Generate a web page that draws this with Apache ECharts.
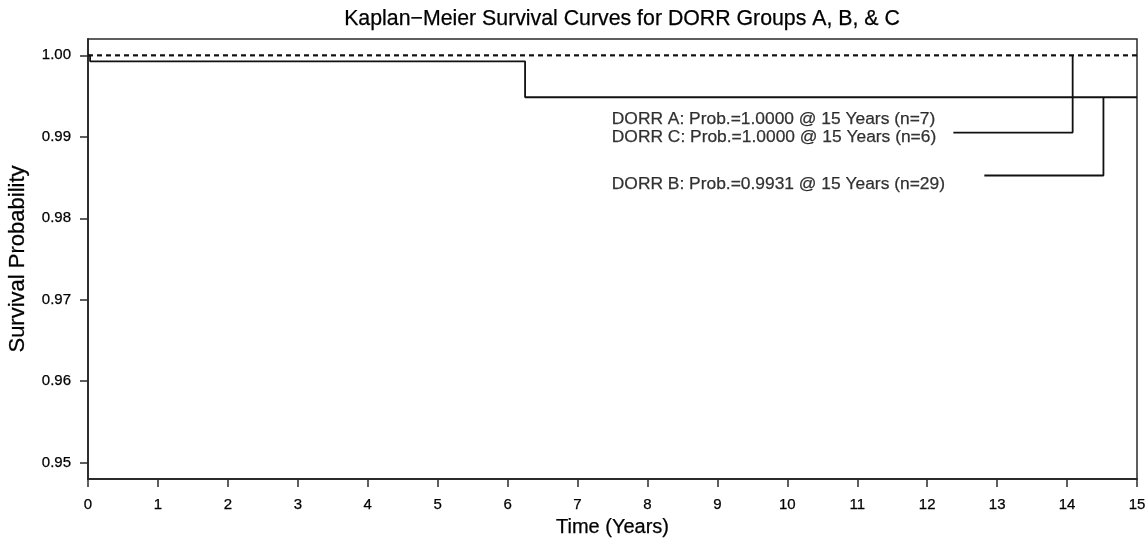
<!DOCTYPE html>
<html>
<head>
<meta charset="utf-8">
<script src="https://cdn.jsdelivr.net/npm/echarts@6/dist/echarts.min.js"></script>
<style>
  html, body { margin: 0; padding: 0; background: #fff; }
  #chart { width: 1148px; height: 546px; }
</style>
</head>
<body>
<div id="chart"></div>
<script>
// ---- data ----
const titleText = 'Kaplan\u2212Meier Survival Curves for DORR Groups A, B, & C';
const xTicks = [0, 1, 2, 3, 4, 5, 6, 7, 8, 9, 10, 11, 12, 13, 14, 15];
const yTicks = [0.95, 0.96, 0.97, 0.98, 0.99, 1.00];

// Group A and C: no events (survival stays 1.0)
const timesA = [0, 15];
const survA = [1.0, 1.0];
const timesC = [0, 15];
const survC = [1.0, 1.0];
// Group B: step curve
const timesB = [0, 0.03, 6.25, 15];
const survB = [1.0, 0.99926, 0.99485, 0.99485];

// annotation texts and their anchors (data coordinates)
const noteTexts = [
  'DORR A: Prob.=1.0000 @ 15 Years (n=7)',
  'DORR C: Prob.=1.0000 @ 15 Years (n=6)',
  'DORR B: Prob.=0.9931 @ 15 Years (n=29)'
];
const noteX = [7.49, 7.49, 7.49];
const noteY = [0.99219, 0.98998, 0.98422];
// leader lines: [x, y] points
const leaderAC = [[12.374, 0.990515], [14.08, 0.990515], [14.08, 1.0]];
const leaderB = [[12.817, 0.985245], [14.52, 0.985245], [14.52, 0.99485]];

const zip = (xs, ys) => xs.map((x, i) => [x, ys[i]]);

const chart = echarts.init(document.getElementById('chart'), null, { renderer: 'canvas' });
const FONT = 'Liberation Sans, Arial, Helvetica, sans-serif';
const axisColor = '#2a2a2a';
const lineColor = '#111';
const inkText = { color: '#000', textBorderColor: '#000', textBorderWidth: 0.25 };

chart.setOption({
  animation: false,
  backgroundColor: '#fff',
  title: {
    text: titleText,
    left: 617,
    top: 4,
    textAlign: 'center',
    textStyle: Object.assign({ fontFamily: FONT, fontSize: 21.3, fontWeight: 'normal' }, inkText)
  },
  grid: {
    left: 88, right: 11, top: 39, bottom: 67,
    containLabel: false,
    outerBoundsMode: 'none',
    show: true,
    borderColor: axisColor,
    borderWidth: 1.5,
    backgroundColor: 'transparent'
  },
  xAxis: {
    type: 'value',
    min: 0, max: 15, interval: 1,
    name: 'Time (Years)',
    nameLocation: 'middle',
    nameGap: 38,
    nameTextStyle: Object.assign({ fontFamily: FONT, fontSize: 20 }, inkText),
    axisLine: { show: true, onZero: false, lineStyle: { color: axisColor, width: 1.8 } },
    axisTick: { show: true, inside: false, length: 8, lineStyle: { color: axisColor, width: 1.5 } },
    axisLabel: Object.assign({
      show: true, margin: 18, fontFamily: FONT, fontSize: 15,
      formatter: v => String(v)
    }, inkText),
    splitLine: { show: false }
  },
  yAxis: {
    type: 'value',
    min: 0.948, max: 1.002,
    name: 'Survival Probability',
    nameLocation: 'middle',
    nameGap: 59,
    nameTextStyle: Object.assign({ fontFamily: FONT, fontSize: 22 }, inkText),
    axisLine: { show: true, onZero: false, lineStyle: { color: axisColor, width: 1.8 } },
    axisTick: { show: true, inside: false, length: 8, customValues: yTicks, lineStyle: { color: axisColor, width: 1.5 } },
    axisLabel: Object.assign({
      show: true, margin: 17, fontFamily: FONT, fontSize: 15,
      customValues: yTicks,
      formatter: v => Number(v).toFixed(2)
    }, inkText),
    splitLine: { show: false }
  },
  series: [
    {
      name: 'DORR A', type: 'line', data: zip(timesA, survA), step: 'end',
      symbol: 'none', lineStyle: { color: lineColor, width: 1.8, type: [5, 4] }, z: 3
    },
    {
      name: 'DORR C', type: 'line', data: zip(timesC, survC), step: 'end',
      symbol: 'none', lineStyle: { color: lineColor, width: 1.8, type: [5, 4] }, z: 3
    },
    {
      name: 'DORR B', type: 'line', data: zip(timesB, survB), step: 'end',
      symbol: 'none', lineStyle: { color: lineColor, width: 1.8 }, z: 3
    },
    {
      name: 'leaderAC', type: 'line', data: leaderAC,
      symbol: 'none', lineStyle: { color: lineColor, width: 1.8 }, z: 3
    },
    {
      name: 'leaderB', type: 'line', data: leaderB,
      symbol: 'none', lineStyle: { color: lineColor, width: 1.8 }, z: 3
    },
    {
      name: 'notes', type: 'scatter', symbolSize: 0,
      data: noteTexts.map((t, i) => ({ value: [noteX[i], noteY[i]], name: t })),
      label: Object.assign({
        show: true, position: 'right', distance: 0,
        formatter: p => p.name,
        fontFamily: FONT, fontSize: 17.4
      }, inkText),
      z: 4
    }
  ]
});
</script>
</body>
</html>
